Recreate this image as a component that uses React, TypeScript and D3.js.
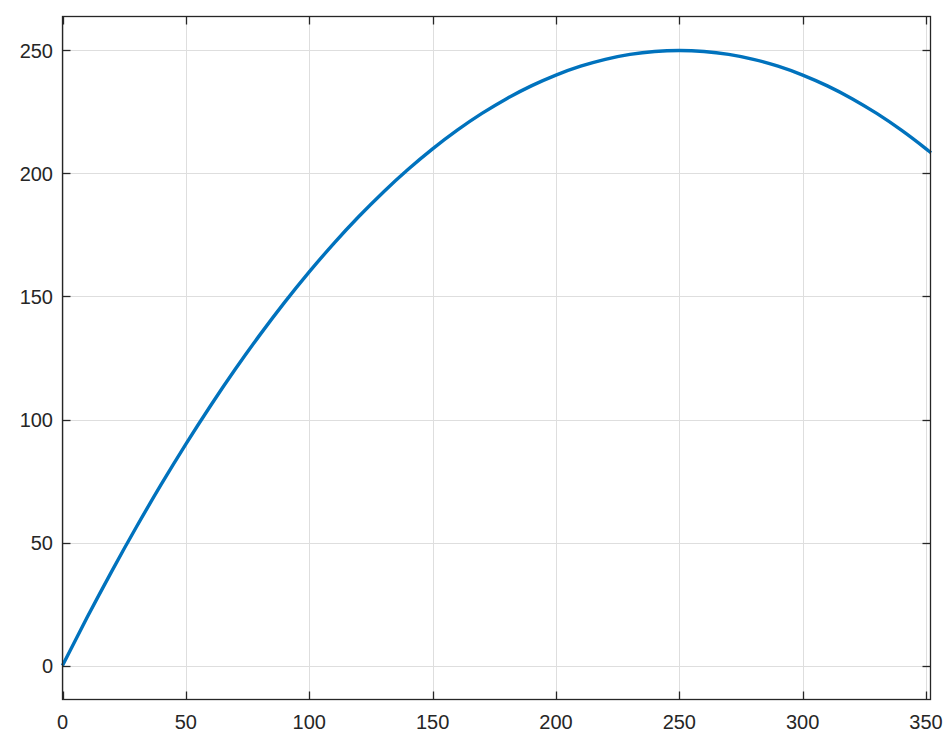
import React, { useEffect } from "react";
import * as d3 from "d3";

const xValues = [0, 10, 20, 30, 40, 50, 60, 70, 80, 90, 100, 110, 120, 130, 140, 150, 160, 170, 180, 190, 200, 210, 220, 230, 240, 250, 260, 270, 280, 290, 300, 310, 320, 330, 340, 350, 352];
const yValues = [0, 19.6, 38.4, 56.4, 73.6, 90, 105.6, 120.4, 134.4, 147.6, 160, 171.6, 182.4, 192.4, 201.6, 210, 217.6, 224.4, 230.4, 235.6, 240, 243.6, 246.4, 248.4, 249.6, 250, 249.6, 248.4, 246.4, 243.6, 240, 235.6, 230.4, 224.4, 217.6, 210, 208.4];
const xTicks = [0, 50, 100, 150, 200, 250, 300, 350];
const yTicks = [0, 50, 100, 150, 200, 250];
const xDomain = [0, 351.8];
const yDomain = [-13.8, 263.8];

const W = 952;
const H = 741;
const L = 62.5;
const R = 930.5;
const T = 16.5;
const B = 699.5;
const AX = "#262626";
const GRID = "#dedede";
const FONT = "'Liberation Sans', Arial, Helvetica, sans-serif";

export default function App() {
  useEffect(() => {
    document.body.style.margin = "0";
  }, []);
  const x = d3.scaleLinear().domain(xDomain).range([L, R]);
  const y = d3.scaleLinear().domain(yDomain).range([B, T]);
  const pts = xValues.map((v, i) => [v, yValues[i]] as [number, number]);
  const line = d3
    .line<[number, number]>()
    .x((d) => x(d[0]))
    .y((d) => y(d[1]))
    .curve(d3.curveMonotoneX);
  const tk = 8;
  return (
    <svg width={W} height={H} style={{ display: "block" }}>
      <rect x={0} y={0} width={W} height={H} fill="#fff" />
      {xTicks.map((t) => (
        <line key={"gx" + t} x1={Math.round(x(t)) + 0.5} x2={Math.round(x(t)) + 0.5} y1={T} y2={B} stroke={GRID} strokeWidth={1} />
      ))}
      {yTicks.map((t) => (
        <line key={"gy" + t} y1={Math.round(y(t)) + 0.5} y2={Math.round(y(t)) + 0.5} x1={L} x2={R} stroke={GRID} strokeWidth={1} />
      ))}
      <path d={line(pts) || ""} fill="none" stroke="#0072BD" strokeWidth={3.4} strokeLinejoin="round" />
      <rect x={L} y={T} width={R - L} height={B - T} fill="none" stroke={AX} strokeWidth={1.3} />
      {xTicks.map((t) => {
        const px = Math.round(x(t)) + 0.5;
        return (
          <g key={"tx" + t}>
            <line x1={px} x2={px} y1={B} y2={B - tk} stroke={AX} strokeWidth={1.3} />
            <line x1={px} x2={px} y1={T} y2={T + tk} stroke={AX} strokeWidth={1.3} />
            <text x={x(t)} y={729} textAnchor="middle" fontFamily={FONT} fontSize={20} fill={AX}>
              {t}
            </text>
          </g>
        );
      })}
      {yTicks.map((t) => {
        const py = Math.round(y(t)) + 0.5;
        return (
          <g key={"ty" + t}>
            <line y1={py} y2={py} x1={L} x2={L + tk} stroke={AX} strokeWidth={1.3} />
            <line y1={py} y2={py} x1={R} x2={R - tk} stroke={AX} strokeWidth={1.3} />
            <text x={53} y={y(t)} dy="0.38em" textAnchor="end" fontFamily={FONT} fontSize={20} fill={AX}>
              {t}
            </text>
          </g>
        );
      })}
    </svg>
  );
}
